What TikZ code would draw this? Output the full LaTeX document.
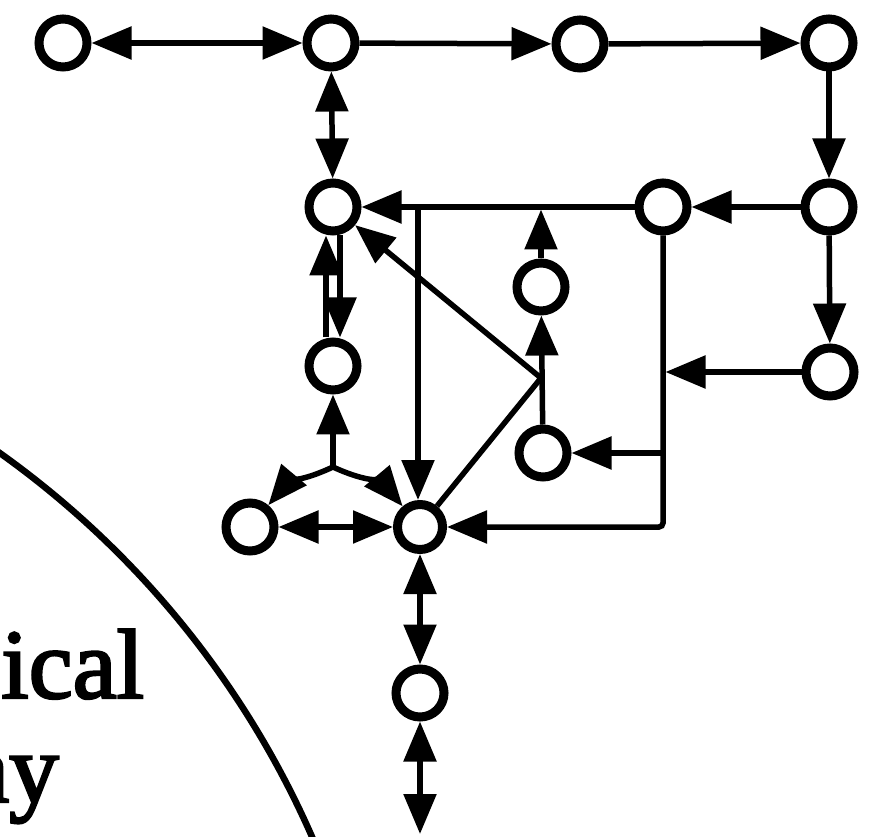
\documentclass[tikz,border=0pt]{standalone}
\usepackage{fontspec}
\setmainfont{Liberation Serif}
\newfontfamily\captionfont[FakeBold=2.5]{Liberation Serif}
\usetikzlibrary{arrows.meta}
\begin{document}
\begin{tikzpicture}[x=1pt,y=1pt,
  state/.style={circle,draw,line width=9pt,minimum size=48pt,inner sep=0pt},
  wire/.style={line width=5.5pt},
  >={Triangle[length=40pt,width=32pt]},
  label text/.style={anchor=base west,inner sep=0pt,font=\captionfont\fontsize{99}{104}\selectfont}]
\useasboundingbox (0,0) rectangle (869,836);
\clip (0,0) rectangle (869,836);

% boundary arc and its caption
\draw[line width=6.5pt] (-538,-373) circle[radius=927.7];
\node[label text] (cap1) at (1,138) {ical};
\node[label text] (cap2) at (-35,34) {ay};

% states
\node[state] (A) at (63,793) {};
\node[state] (B) at (331,793) {};
\node[state] (C) at (580,792) {};
\node[state] (D) at (829,793) {};
\node[state] (E) at (333,629) {};
\node[state] (F) at (663,629) {};
\node[state] (G) at (829,629) {};
\node[state] (H) at (541,549) {};
\node[state] (I) at (333,470) {};
\node[state] (J) at (830,464) {};
\node[state] (K) at (543,383) {};
\node[state] (L) at (250,309) {};
\node[state,minimum size=45pt] (M) at (420,309) {};
\node[state] (N) at (420,143) {};

% junctions
\coordinate (bot) at (420,2);
\coordinate (fork) at (333,369);
\coordinate (apex) at (541,458);
\coordinate (t1) at (418,629);
\coordinate (t2) at (541,629);

% top row and right column
\draw[wire,<->] (A) -- (B);
\draw[wire,->] (B) -- (C);
\draw[wire,->] (C) -- (D);
\draw[wire,->] (D) -- (G);
\draw[wire,->] (G) -- (F);
\draw[wire,->] (G) -- (J);
\draw[wire,<->] (B) -- (E);

% middle bus
\draw[wire,->] (F) -- (E);
\draw[wire,->] (t1) -- (t1 |- M.north);
\draw[wire,->,shorten >=2.5pt] (H) -- (t2);
\draw[wire,->] (K) -- (H);
\draw[wire,->] (M) -- (apex) -- (E);

% right feedback line
\draw[wire,->,rounded corners=4pt] (F) -- (F |- M) -- (M);
\draw[wire,->,shorten >=2.5pt] (J) -- (J -| F);
\draw[wire,->] (K -| F) -- (K);

% left column
\draw[wire,->] ([xshift=-7pt]I.north) -- ([xshift=-7pt]E.south);
\draw[wire,->] ([xshift=7pt]E.south) -- ([xshift=7pt]I.north);
\draw[wire,->] (fork) -- (I);
\draw[wire,->] (fork) to[out=205,in=50] (L);
\draw[wire,->] (fork) to[out=-25,in=130] (M);
\draw[wire,<->] (L) -- (M);
\draw[wire,<->] (M) -- (N);
\draw[wire,<->] (N) -- (bot);
\end{tikzpicture}
\end{document}
